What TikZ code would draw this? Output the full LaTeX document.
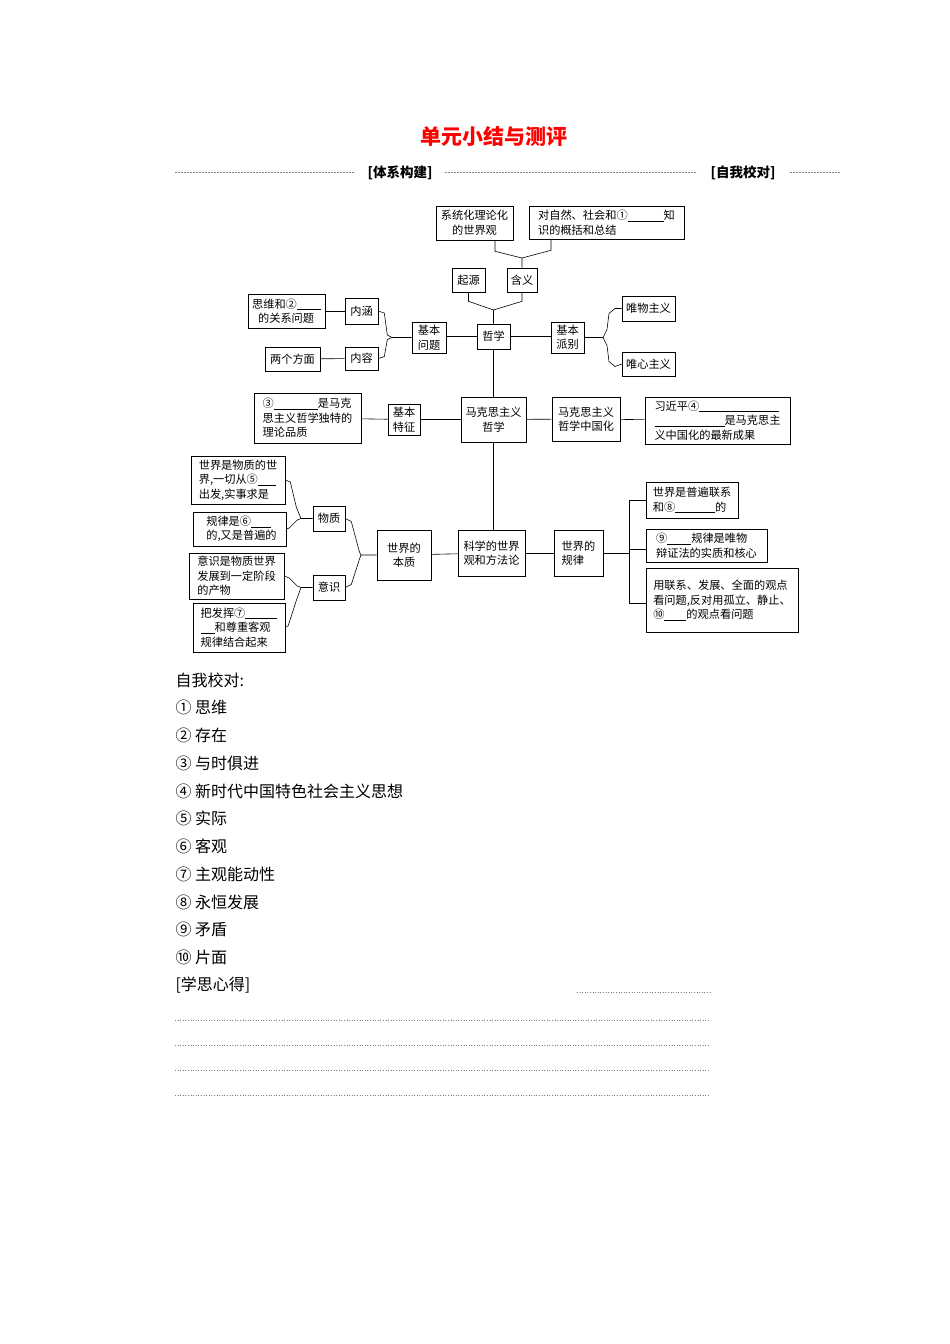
\documentclass[tikz,border=0pt]{standalone}
\usepackage{fontspec}
\setmainfont{Noto Sans CJK SC}
\begin{document}
\newcommand{\blk}[1]{\rule[-1.5pt]{#1pt}{0.4pt}}
\begin{tikzpicture}[x=1pt,y=-1pt,
  box/.style={draw,line width=0.6pt,inner sep=2pt,align=left,font=\fontsize{11.2}{14.5}\selectfont},
  ln/.style={line width=0.6pt},
  dl/.style={dashed,line width=0.5pt,gray,dash pattern=on 2pt off 1pt},
  dt/.style={dotted,line width=0.6pt,gray},
  lst/.style={anchor=west,font=\fontsize{16}{18}\selectfont}]
\useasboundingbox (0,0) rectangle (950,1344);
\newcommand{\bx}[6]{\node[box,minimum width=#4pt,minimum height=#5pt] (#1) at (#2,#3) {#6};}
% header
\node[text=red,font=\fontsize{21}{24}\selectfont\bfseries] (title) at (494,136) {单元小结与测评};
\draw[dl] (175,172) -- (355,172);
\node[font=\fontsize{13.5}{16}\selectfont\bfseries] (h1) at (400,173) {[体系构建]};
\draw[dl] (445,172) -- (697,172);
\node[font=\fontsize{13.5}{16}\selectfont\bfseries] (h2) at (743,173) {[自我校对]};
\draw[dl] (790,172) -- (840,172);
% nodes
\node[box,align=center,minimum width=77pt,minimum height=34pt] (a) at (474.5,223) {系统化理论化\\的世界观};
\bx{b}{606.5}{222.5}{155}{33}{对自然、社会和①\blk{36}知\\识的概括和总结\hspace*{48pt}}
\bx{c}{468.5}{280}{33}{24}{起源}
\bx{d}{522}{280}{30}{24}{含义}
\bx{e}{493.5}{336.5}{33}{25}{哲学}
\bx{f}{429}{337.5}{34}{31}{基本\\问题}
\bx{g}{361.5}{311}{33}{26}{内涵}
\bx{h}{361.5}{358.5}{33}{23}{内容}
\bx{i}{286.5}{311}{77}{34}{思维和②\blk{24}\\\hspace*{6pt}的关系问题}
\bx{j}{292.5}{359}{55}{24}{两个方面}
\bx{k}{567.5}{337.5}{33}{31}{基本\\派别}
\bx{l}{648.5}{308.5}{53}{25}{唯物主义}
\bx{m}{648.5}{364}{53}{24}{唯心主义}
\node[box,align=center,minimum width=65pt,minimum height=45pt] (n) at (493.5,419.5) {马克思主义\\哲学};
\bx{o}{404}{419.5}{32}{31}{基本\\特征}
\bx{p}{307.5}{418}{107}{50}{③\blk{44}是马克\\思主义哲学独特的\\理论品质}
\bx{q}{586}{419}{68}{44}{马克思主义\\哲学中国化}
\bx{r}{717.5}{420.5}{145}{47}{习近平④\blk{80}\\\blk{70}是马克思主\\义中国化的最新成果}
\bx{s}{238}{480}{94}{48}{世界是物质的世\\界,一切从⑤\blk{18}\\出发,实事求是}
\bx{t}{239.5}{529}{93}{34}{\hspace*{4pt}规律是⑥\blk{20}\\\hspace*{4pt}的,又是普遍的}
\bx{u}{236.5}{576}{95}{46}{意识是物质世界\\发展到一定阶段\\的产物}
\bx{v}{239}{627.5}{92}{49}{把发挥⑦\blk{32}\\\blk{14}和尊重客观\\规律结合起来}
\bx{w}{329}{518.5}{32}{25}{物质}
\bx{x}{329}{587.5}{32}{25}{意识}
\node[box,align=center,minimum width=54pt,minimum height=50pt] (y) at (404,555) {世界的\\本质};
\bx{z}{491.5}{553}{67}{46}{科学的世界\\观和方法论}
\bx{aa}{578.5}{553}{49}{46}{世界的\\规律}
\bx{bb}{692}{500}{92}{36}{世界是普遍联系\\和⑧\blk{40}的}
\bx{cc}{706.5}{545.5}{121}{33}{⑨\blk{24}规律是唯物\\辩证法的实质和核心}
\bx{dd}{722}{600}{152}{64}{用联系、发展、全面的观点\\看问题,反对用孤立、静止、\\⑩\blk{22}的观点看问题}
% connectors
\coordinate (t1) at (522,258);
\draw[ln] (a.south -| 495,0) -- ++(0,11) -- (t1) -- (d.north);
\draw[ln] (b.south -| 551,0) -- ++(0,11) -- (t1);
\coordinate (t2) at (493.5,310);
\draw[ln] (c.south) -- ++(0,9) -- (t2) -- (e.north);
\draw[ln] (d.south) -- ++(0,9) -- (t2);
\draw[ln] (e.west) -- (f.east |- e.west); \draw[ln] (e.east) -- (k.west |- e.east);
\coordinate (t3) at (392,337.5);
\draw[ln] (g.east) -- ++(6,2) -- ++(3,22) -- (t3) -- (f.west);
\draw[ln] (h.east) -- ++(6,-2) -- ++(3,-17) -- (t3);
\draw[ln] (g) -- (i); \draw[ln] (h) -- (j);
\coordinate (t4) at (603,337.5);
\draw[ln] (k.east) -- (t4) -- ++(4,-8) -- ++(2,-16) -- ++(6,-5) -- (l.west);
\draw[ln] (t4) -- ++(4,8) -- ++(2,16) -- ++(6,5) -- (m.west);
\draw[ln] (e.south) -- (n.north);
\draw[ln] (n.south) -- (n.south |- z.north);
\draw[ln] (n) -- (o); \draw[ln] (o) -- (p);
\draw[ln] (n) -- (q); \draw[ln] (q) -- (r);
\coordinate (t5) at (301,518.5);
\draw[ln] (s.east) -- ++(5,2) -- ++(6,25) -- (t5) -- (w.west);
\draw[ln] (t.east) -- ++(3,-1) -- ++(8,-8) -- (t5);
\coordinate (t6) at (301,587.5);
\draw[ln] (u.east) -- ++(5,2) -- ++(8,8) -- (t6) -- (x.west);
\draw[ln] (v.east) -- ++(3,-2) -- ++(8,-25) -- (t6);
\coordinate (t7) at (361,555);
\draw[ln] (w.east) -- ++(6,3) -- ++(8,30) -- (t7) -- (y.west);
\draw[ln] (x.east) -- ++(6,-3) -- ++(8,-25) -- (t7);
\draw[ln] (y) -- (z); \draw[ln] (z) -- (aa);
\coordinate (t8) at (629,553);
\draw[ln] (aa.east) -- (t8);
\draw[ln] (bb.west) -- (629,500) -- (629,603) -- (646,603);
\draw[ln] (cc.west |- 0,549) -- (629,549);
% list
\node[lst] (l0) at (172,680) {自我校对:};
\node[lst] (l1) at (172,707) {① 思维};
\node[lst] (l2) at (172,735) {② 存在};
\node[lst] (l3) at (172,763) {③ 与时俱进};
\node[lst] (l4) at (172,791) {④ 新时代中国特色社会主义思想};
\node[lst] (l5) at (172,818) {⑤ 实际};
\node[lst] (l6) at (172,846) {⑥ 客观};
\node[lst] (l7) at (172,874) {⑦ 主观能动性};
\node[lst] (l8) at (172,902) {⑧ 永恒发展};
\node[lst] (l9) at (172,929) {⑨ 矛盾};
\node[lst] (l10) at (172,957) {⑩ 片面};
\node[lst] (l11) at (172,985) {[学思心得]};
\draw[dt] (577,992) -- (710,992);
\draw[dt] (175,1020) -- (710,1020);
\draw[dt] (175,1045) -- (710,1045);
\draw[dt] (175,1070) -- (710,1070);
\draw[dt] (175,1095) -- (710,1095);
\end{tikzpicture}
\end{document}
